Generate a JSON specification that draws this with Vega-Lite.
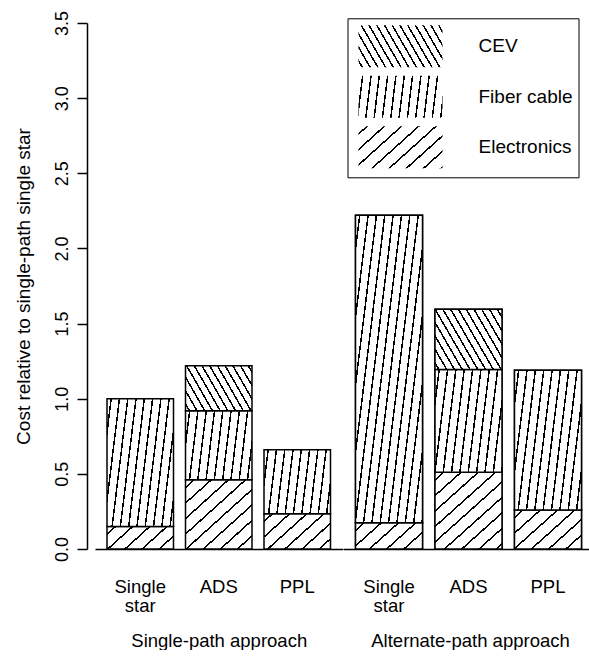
{
  "$schema": "https://vega.github.io/schema/vega-lite/v6.json",
  "padding": {"left": 14, "top": 10, "right": 0, "bottom": 0},
  "bounds": "flush",
  "spacing": 0,
  "config": {
    "font": "Liberation Sans",
    "view": {"stroke": null},
    "axis": {"labelColor": "black", "titleColor": "black", "domainColor": "black", "tickColor": "black", "grid": false, "titleFontWeight": "normal"},
    "legend": {"symbolStrokeColor": "black", "symbolStrokeWidth": 1.5}
  },
  "params": [
    {"name": "stopsC", "value": [
      {"offset":0,"color":"white"},
      {"offset":0.02587,"color":"white"},{"offset":0.02587,"color":"black"},{"offset":0.04079,"color":"black"},{"offset":0.04079,"color":"white"},
      {"offset":0.09254,"color":"white"},{"offset":0.09254,"color":"black"},{"offset":0.10746,"color":"black"},{"offset":0.10746,"color":"white"},
      {"offset":0.15921,"color":"white"},{"offset":0.15921,"color":"black"},{"offset":0.17413,"color":"black"},{"offset":0.17413,"color":"white"},
      {"offset":0.22587,"color":"white"},{"offset":0.22587,"color":"black"},{"offset":0.24079,"color":"black"},{"offset":0.24079,"color":"white"},
      {"offset":0.29254,"color":"white"},{"offset":0.29254,"color":"black"},{"offset":0.30746,"color":"black"},{"offset":0.30746,"color":"white"},
      {"offset":0.35921,"color":"white"},{"offset":0.35921,"color":"black"},{"offset":0.37413,"color":"black"},{"offset":0.37413,"color":"white"},
      {"offset":0.42587,"color":"white"},{"offset":0.42587,"color":"black"},{"offset":0.44079,"color":"black"},{"offset":0.44079,"color":"white"},
      {"offset":0.49254,"color":"white"},{"offset":0.49254,"color":"black"},{"offset":0.50746,"color":"black"},{"offset":0.50746,"color":"white"},
      {"offset":0.55921,"color":"white"},{"offset":0.55921,"color":"black"},{"offset":0.57413,"color":"black"},{"offset":0.57413,"color":"white"},
      {"offset":0.62587,"color":"white"},{"offset":0.62587,"color":"black"},{"offset":0.64079,"color":"black"},{"offset":0.64079,"color":"white"},
      {"offset":0.69254,"color":"white"},{"offset":0.69254,"color":"black"},{"offset":0.70746,"color":"black"},{"offset":0.70746,"color":"white"},
      {"offset":0.75921,"color":"white"},{"offset":0.75921,"color":"black"},{"offset":0.77413,"color":"black"},{"offset":0.77413,"color":"white"},
      {"offset":0.82587,"color":"white"},{"offset":0.82587,"color":"black"},{"offset":0.84079,"color":"black"},{"offset":0.84079,"color":"white"},
      {"offset":0.89254,"color":"white"},{"offset":0.89254,"color":"black"},{"offset":0.90746,"color":"black"},{"offset":0.90746,"color":"white"},
      {"offset":0.95921,"color":"white"},{"offset":0.95921,"color":"black"},{"offset":0.97413,"color":"black"},{"offset":0.97413,"color":"white"},
      {"offset":1,"color":"white"}
    ]},
    {"name": "stopsF", "value": [
      {"offset":0,"color":"white"},
      {"offset":0.02922,"color":"white"},{"offset":0.02922,"color":"black"},{"offset":0.04220,"color":"black"},{"offset":0.04220,"color":"white"},
      {"offset":0.10065,"color":"white"},{"offset":0.10065,"color":"black"},{"offset":0.11363,"color":"black"},{"offset":0.11363,"color":"white"},
      {"offset":0.17208,"color":"white"},{"offset":0.17208,"color":"black"},{"offset":0.18506,"color":"black"},{"offset":0.18506,"color":"white"},
      {"offset":0.24351,"color":"white"},{"offset":0.24351,"color":"black"},{"offset":0.25649,"color":"black"},{"offset":0.25649,"color":"white"},
      {"offset":0.31494,"color":"white"},{"offset":0.31494,"color":"black"},{"offset":0.32792,"color":"black"},{"offset":0.32792,"color":"white"},
      {"offset":0.38637,"color":"white"},{"offset":0.38637,"color":"black"},{"offset":0.39935,"color":"black"},{"offset":0.39935,"color":"white"},
      {"offset":0.45780,"color":"white"},{"offset":0.45780,"color":"black"},{"offset":0.47078,"color":"black"},{"offset":0.47078,"color":"white"},
      {"offset":0.52922,"color":"white"},{"offset":0.52922,"color":"black"},{"offset":0.54220,"color":"black"},{"offset":0.54220,"color":"white"},
      {"offset":0.60065,"color":"white"},{"offset":0.60065,"color":"black"},{"offset":0.61363,"color":"black"},{"offset":0.61363,"color":"white"},
      {"offset":0.67208,"color":"white"},{"offset":0.67208,"color":"black"},{"offset":0.68506,"color":"black"},{"offset":0.68506,"color":"white"},
      {"offset":0.74351,"color":"white"},{"offset":0.74351,"color":"black"},{"offset":0.75649,"color":"black"},{"offset":0.75649,"color":"white"},
      {"offset":0.81494,"color":"white"},{"offset":0.81494,"color":"black"},{"offset":0.82792,"color":"black"},{"offset":0.82792,"color":"white"},
      {"offset":0.88637,"color":"white"},{"offset":0.88637,"color":"black"},{"offset":0.89935,"color":"black"},{"offset":0.89935,"color":"white"},
      {"offset":0.95780,"color":"white"},{"offset":0.95780,"color":"black"},{"offset":0.97078,"color":"black"},{"offset":0.97078,"color":"white"},
      {"offset":1,"color":"white"}
    ]},
    {"name": "stopsE", "value": [
      {"offset":0,"color":"white"},
      {"offset":0.04348,"color":"white"},{"offset":0.04348,"color":"black"},{"offset":0.05652,"color":"black"},{"offset":0.05652,"color":"white"},
      {"offset":0.14348,"color":"white"},{"offset":0.14348,"color":"black"},{"offset":0.15652,"color":"black"},{"offset":0.15652,"color":"white"},
      {"offset":0.24348,"color":"white"},{"offset":0.24348,"color":"black"},{"offset":0.25652,"color":"black"},{"offset":0.25652,"color":"white"},
      {"offset":0.34348,"color":"white"},{"offset":0.34348,"color":"black"},{"offset":0.35652,"color":"black"},{"offset":0.35652,"color":"white"},
      {"offset":0.44348,"color":"white"},{"offset":0.44348,"color":"black"},{"offset":0.45652,"color":"black"},{"offset":0.45652,"color":"white"},
      {"offset":0.54348,"color":"white"},{"offset":0.54348,"color":"black"},{"offset":0.55652,"color":"black"},{"offset":0.55652,"color":"white"},
      {"offset":0.64348,"color":"white"},{"offset":0.64348,"color":"black"},{"offset":0.65652,"color":"black"},{"offset":0.65652,"color":"white"},
      {"offset":0.74348,"color":"white"},{"offset":0.74348,"color":"black"},{"offset":0.75652,"color":"black"},{"offset":0.75652,"color":"white"},
      {"offset":0.84348,"color":"white"},{"offset":0.84348,"color":"black"},{"offset":0.85652,"color":"black"},{"offset":0.85652,"color":"white"},
      {"offset":0.94348,"color":"white"},{"offset":0.94348,"color":"black"},{"offset":0.95652,"color":"black"},{"offset":0.95652,"color":"white"},
      {"offset":1,"color":"white"}
    ]}
  ],
  "data": {"values": [
    {"approach":"Single-path approach","config":"Single star","component":"Electronics","value":0.15},
    {"approach":"Single-path approach","config":"Single star","component":"Fiber cable","value":0.85},
    {"approach":"Single-path approach","config":"ADS","component":"Electronics","value":0.46},
    {"approach":"Single-path approach","config":"ADS","component":"Fiber cable","value":0.46},
    {"approach":"Single-path approach","config":"ADS","component":"CEV","value":0.3},
    {"approach":"Single-path approach","config":"PPL","component":"Electronics","value":0.235},
    {"approach":"Single-path approach","config":"PPL","component":"Fiber cable","value":0.425},
    {"approach":"Alternate-path approach","config":"Single star","component":"Electronics","value":0.175},
    {"approach":"Alternate-path approach","config":"Single star","component":"Fiber cable","value":2.045},
    {"approach":"Alternate-path approach","config":"ADS","component":"Electronics","value":0.51},
    {"approach":"Alternate-path approach","config":"ADS","component":"Fiber cable","value":0.685},
    {"approach":"Alternate-path approach","config":"ADS","component":"CEV","value":0.4},
    {"approach":"Alternate-path approach","config":"PPL","component":"Electronics","value":0.26},
    {"approach":"Alternate-path approach","config":"PPL","component":"Fiber cable","value":0.93}
  ]},
  "transform": [
    {"calculate": "indexof(['Electronics', 'Fiber cable', 'CEV'], datum.component)", "as": "rank"},
    {"calculate": "datum.component === 'CEV' ? {gradient: 'linear', x1: 0, y1: 1, x2: 0.57475 / (0.57475 * 0.57475 + pow(datum.value * 0.74769, 2)), y2: 1 - datum.value * 0.74769 / (0.57475 * 0.57475 + pow(datum.value * 0.74769, 2)), stops: stopsC} : datum.component === 'Fiber cable' ? {gradient: 'linear', x1: 0, y1: 0, x2: 0.57316 / (0.57316 * 0.57316 + pow(datum.value * 0.15861, 2)), y2: datum.value * 0.15861 / (0.57316 * 0.57316 + pow(datum.value * 0.15861, 2)), stops: stopsF} : {gradient: 'linear', x1: 0, y1: 0, x2: 0.38802 / (0.38802 * 0.38802 + pow(datum.value * 0.97098, 2)), y2: datum.value * 0.97098 / (0.38802 * 0.38802 + pow(datum.value * 0.97098, 2)), stops: stopsE}", "as": "grad"}
  ],
  "hconcat": [
    {
      "width": 247.5,
      "height": 526,
      "transform": [{"filter": "datum.approach === 'Single-path approach'"}],
      "mark": {"type": "bar", "stroke": "black", "strokeWidth": 1.5},
      "encoding": {
        "x": {
          "field": "config", "type": "nominal", "sort": ["Single star", "ADS", "PPL"],
          "scale": {"paddingInner": 0.153, "paddingOuter": 0.153},
          "axis": {"title": "Single-path approach", "labelAngle": 0, "labelFontSize": 18.5, "labelLineHeight": 19, "labelPadding": 28, "labelBaseline": "top", "labelExpr": "datum.value === 'Single star' ? ['Single', 'star'] : datum.value", "ticks": false, "domainWidth": 1.5, "titleFontSize": 18.5, "titlePadding": 17}
        },
        "y": {
          "field": "value", "type": "quantitative", "stack": "zero",
          "scale": {"domain": [0, 3.5], "nice": false},
          "axis": {"title": "Cost relative to single-path single star", "values": [0, 0.5, 1, 1.5, 2, 2.5, 3, 3.5], "format": ".1f", "offset": 8, "tickSize": 10, "tickWidth": 1.5, "domainWidth": 1.5, "labelAngle": 270, "labelAlign": "center", "labelBaseline": "alphabetic", "labelPadding": 10, "labelFontSize": 18, "titleFontSize": 19, "titlePadding": 20}
        },
        "order": {"field": "rank", "type": "quantitative"},
        "fill": {"field": "grad", "type": "nominal", "scale": null}
      }
    },
    {
      "width": 246.5,
      "height": 526,
      "transform": [{"filter": "datum.approach === 'Alternate-path approach'"}],
      "encoding": {
        "x": {
          "field": "config", "type": "nominal", "sort": ["Single star", "ADS", "PPL"],
          "scale": {"paddingInner": 0.157, "paddingOuter": 0.129, "align": 0.61},
          "axis": {"title": "Alternate-path approach", "titleX": 127, "labelAngle": 0, "labelFontSize": 18.5, "labelLineHeight": 19, "labelPadding": 28, "labelBaseline": "top", "labelExpr": "datum.value === 'Single star' ? ['Single', 'star'] : datum.value", "ticks": false, "domainWidth": 1.5, "titleFontSize": 18.5, "titlePadding": 17}
        },
        "y": {
          "field": "value", "type": "quantitative", "stack": "zero",
          "scale": {"domain": [0, 3.5], "nice": false},
          "axis": null
        },
        "order": {"field": "rank", "type": "quantitative"}
      },
      "layer": [
        {
          "mark": {"type": "bar", "stroke": "black", "strokeWidth": 1.5},
          "encoding": {
            "fill": {"value": {"expr": "(isString(datum.value) ? datum.value : datum.component) === 'CEV' ? {gradient: 'linear', x1: 0, y1: 1, x2: 1.27528, y2: 0.63184, stops: stopsC} : (isString(datum.value) ? datum.value : datum.component) === 'Fiber cable' ? {gradient: 'linear', x1: 0, y1: 0, x2: 1.38018, y2: 0.08476, stops: stopsF} : {gradient: 'linear', x1: 0, y1: 0, x2: 1.56407, y2: 0.86855, stops: stopsE}"}},
            "stroke": {"value": "black"},
            "opacity": {
              "field": "component", "type": "nominal",
              "scale": {"domain": ["CEV", "Fiber cable", "Electronics"], "range": [1, 1, 1]},
              "legend": {
                "title": null, "orient": "none", "legendX": 4.5, "legendY": -4.7, "direction": "vertical",
                "symbolType": "M-2,-1H2V1H-2Z", "symbolSize": 1764,
                "symbolStrokeColor": "black", "symbolStrokeWidth": 1.5,
                "labelFontSize": 19, "labelColor": "black", "labelOffset": 56, "labelLimit": 200,
                "rowPadding": 2.5, "padding": 6, "symbolOffset": 25,
                "strokeColor": "black", "fillColor": "white"
              }
            }
          }
        },
        {
          "mark": {"type": "bar", "stroke": "black", "strokeWidth": 1.5},
          "encoding": {
            "fill": {"field": "grad", "type": "nominal", "scale": null}
          }
        }
      ]
    }
  ],
  "resolve": {"scale": {"opacity": "independent"}, "legend": {"opacity": "independent"}}
}
